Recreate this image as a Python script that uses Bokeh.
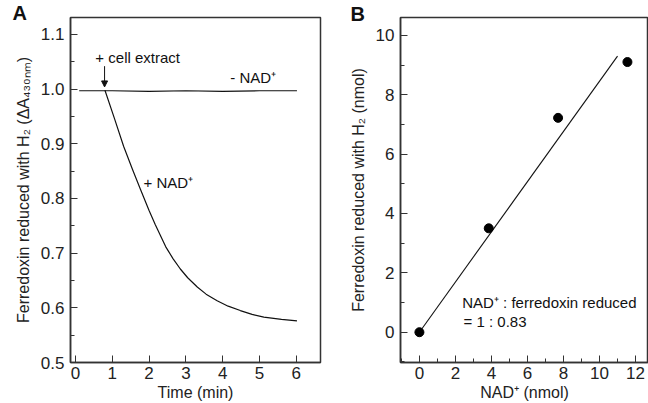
from bokeh.plotting import figure
from bokeh.layouts import row
from bokeh.models import (Label, Arrow, NormalHead, SingleIntervalTicker, Title,
                          PrintfTickFormatter)
from bokeh.embed import file_html
from bokeh.resources import INLINE

# ---- Panel A data (time course) ----
minus_t = [0.10, 1.00, 2.00, 3.00, 4.00, 5.00, 6.02]
minus_y = [0.997, 0.997, 0.996, 0.997, 0.996, 0.997, 0.997]
plus_t = [0.80, 1.06, 1.31, 1.55, 1.77, 2.00, 2.17, 2.45, 2.65, 2.85, 3.05, 3.31,
          3.55, 3.85, 4.15, 4.48, 4.80, 5.12, 5.60, 6.02]
plus_y = [0.998, 0.946, 0.895, 0.853, 0.816, 0.778, 0.752, 0.712, 0.690, 0.671, 0.655, 0.638,
          0.625, 0.613, 0.603, 0.595, 0.588, 0.583, 0.579, 0.576]

# ---- Panel B data ----
nad_nmol = [0.0, 3.85, 7.70, 11.55]
fd_nmol = [0.0, 3.50, 7.22, 9.10]
fit_x = [0.0, 11.0]
fit_y = [0.0, 9.3]

FONT = "Liberation Sans"
FRAME = "#333333"


def style(p, xint, xminor, yint, yminor):
    p.xgrid.grid_line_color = None
    p.ygrid.grid_line_color = None
    p.outline_line_color = FRAME
    p.outline_line_width = 1.5
    p.background_fill_color = "white"
    p.border_fill_color = "white"
    p.xaxis.ticker = SingleIntervalTicker(interval=xint, num_minor_ticks=xminor)
    p.yaxis.ticker = SingleIntervalTicker(interval=yint, num_minor_ticks=yminor)
    for ax in (p.xaxis[0], p.yaxis[0]):
        ax.axis_line_color = FRAME
        ax.axis_line_width = 1.5
        ax.major_tick_line_color = FRAME
        ax.minor_tick_line_color = FRAME
        ax.major_tick_in = 7
        ax.major_tick_out = 0
        ax.minor_tick_in = 4
        ax.minor_tick_out = 0
        ax.major_label_text_font = FONT
        ax.major_label_text_font_size = "17px"
        ax.major_label_text_color = "#222222"
        ax.axis_label_text_font = FONT
        ax.axis_label_text_font_size = "16px"
        ax.axis_label_text_font_style = "normal"
        ax.axis_label_text_color = "#222222"
    p.xaxis.major_label_standoff = 4
    p.xaxis.axis_label_standoff = 2
    p.yaxis.major_label_standoff = 6
    p.yaxis.axis_label_standoff = 6


def panel_title(letter, offset, valign):
    return Title(text=letter, align="left", offset=offset, standoff=-16, vertical_align=valign,
                 text_font=FONT, text_font_size="20px", text_font_style="bold",
                 text_color="#111111")


pA = figure(width=330, height=403, x_range=(-0.136, 6.66), y_range=(0.5, 1.131),
            output_backend="svg", toolbar_location=None,
            min_border_left=70, min_border_right=10, min_border_top=17, min_border_bottom=40)
pA.title = panel_title("A", -58, "top")
style(pA, 1, 0, 0.1, 2)
pA.yaxis.formatter = PrintfTickFormatter(format="%.1f")
pA.xaxis.axis_label = "Time (min)"
pA.yaxis.axis_label = "Ferredoxin reduced with H\u2082 (\u0394A\u2084\u2083\u2080\u2099\u2098)"

pA.line(minus_t, minus_y, line_color="#111111", line_width=1.2)
pA.line(plus_t, plus_y, line_color="#111111", line_width=1.2)

pA.add_layout(Arrow(end=NormalHead(size=6, fill_color="#111111", line_color="#111111"),
                    x_start=0.79, y_start=1.042, x_end=0.79, y_end=1.004,
                    line_color="#111111", line_width=1))
pA.add_layout(Label(x=0.54, y=1.058, text="+ cell extract", text_font=FONT,
                    text_font_size="15px", text_baseline="middle", text_color="#111111"))
pA.add_layout(Label(x=4.21, y=1.022, text="- NAD\u207a", text_font=FONT,
                    text_font_size="15px", text_baseline="middle", text_color="#111111"))
pA.add_layout(Label(x=1.85, y=0.829, text="+ NAD\u207a", text_font=FONT,
                    text_font_size="15px", text_baseline="middle", text_color="#111111"))

pB = figure(width=318, height=403, x_range=(-1.05, 12.72), y_range=(-1.02, 10.6),
            output_backend="svg", toolbar_location=None,
            min_border_left=70, min_border_right=0, min_border_top=17, min_border_bottom=40)
pB.title = panel_title("B", -50, "middle")
style(pB, 2, 2, 2, 2)
pB.xaxis.axis_label = "NAD\u207a (nmol)"
pB.yaxis.axis_label = "Ferredoxin reduced with H\u2082 (nmol)"

pB.line(fit_x, fit_y, line_color="#111111", line_width=1.1)
pB.scatter(nad_nmol, fd_nmol, size=9, marker="circle", fill_color="black", line_color="black")

pB.add_layout(Label(x=2.38, y=1.0, text="NAD\u207a : ferredoxin reduced", text_font=FONT,
                    text_font_size="15px", text_baseline="middle", text_color="#111111"))
pB.add_layout(Label(x=2.45, y=0.36, text="= 1 : 0.83", text_font=FONT,
                    text_font_size="15px", text_baseline="middle", text_color="#111111"))

layout = row(pA, pB)
open("out.html", "w").write(file_html(layout, INLINE))
